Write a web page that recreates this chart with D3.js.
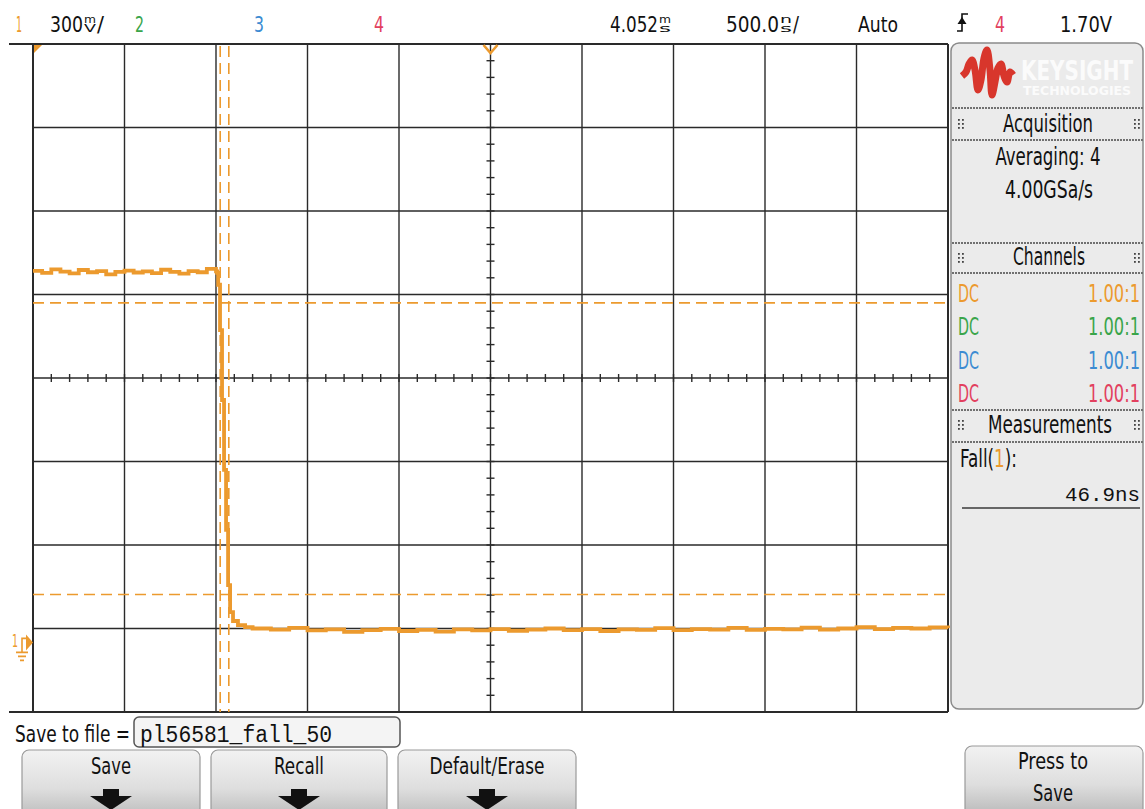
<!DOCTYPE html>
<html><head><meta charset="utf-8">
<script src="https://cdn.jsdelivr.net/npm/d3@7"></script>
<style>
html,body{margin:0;padding:0;background:#fff;overflow:hidden}
svg{display:block}
text{font-family:"Liberation Sans Narrow","DejaVu Sans Condensed",sans-serif}
.mono{font-family:"Liberation Mono","DejaVu Sans Mono",monospace}
</style></head><body>
<svg id="c" width="1145" height="809"></svg>
<script>
// ---------- data ----------
const timeNs = [
 -2500,-2450,-2400,-2350,-2300,-2250,-2200,-2150,-2100,-2050,-2000,-1950,-1900,-1850,-1800,-1750,-1700,-1650,-1600,-1550,-1500,
 -1494,-1488,-1478,-1467,-1456,-1445,-1434,-1423,-1407,-1380,-1341,
 -1300,-1200,-1100,-1000,-900,-800,-700,-600,-500,-400,-300,-200,-100,0,100,200,300,400,500,600,700,800,900,1000,
 1100,1200,1300,1400,1500,1600,1700,1800,1900,2000,2100,2200,2300,2400,2500];
const ch1mV = [
 1335,1328,1340,1332,1326,1338,1330,1334,1322,1331,1336,1329,1333,1327,1339,1331,1325,1334,1330,1342,1333,
 1328,1285,1122,871,620,404,206,109,77,62,55,
 50,46,52,43,47,38,44,49,41,45,39,47,43,48,42,46,50,44,48,41,47,45,51,44,
 48,46,52,45,49,47,53,46,50,55,48,52,50,54,51];
const cursorTimesNs = [-1477, -1430];
const cursorLevelsmV = [1220, 172];
const timeDomainNs = [-2500, 2500];   // 10 div x 500 ns
const voltDomainmV = [-250, 2150];    // 8 div x 300 mV
const topLabels = {ch:["1","2","3","4"], scale:"300", delay:"4.052", tdiv:"500.0", mode:"Auto", trigCh:"4", trigLevel:"1.70V"};
const channelRows = [["DC","1.00:1"],["DC","1.00:1"],["DC","1.00:1"],["DC","1.00:1"]];
const measName = "Fall(", measCh = "1", measValue = "46.9ns";
const acqLines = ["Averaging: 4","4.00GSa/s"];
const fileName = "pl56581_fall_50";
const buttons = ["Save","Recall","Default/Erase"];

// ---------- styles ----------
const C = {orange:"#ec9a2e", green:"#3aa54a", blue:"#3c8bd2", red:"#e2405e", grid:"#2a2a2a"};
const chColors = [C.orange, C.green, C.blue, C.red];

const svg = d3.select("#c");
const defs = svg.append("defs");
const g1 = defs.append("linearGradient").attr("id","btn").attr("x1",0).attr("y1",0).attr("x2",0).attr("y2",1);
g1.append("stop").attr("offset","0%").attr("stop-color","#f2f2f2");
g1.append("stop").attr("offset","55%").attr("stop-color","#dedede");
g1.append("stop").attr("offset","100%").attr("stop-color","#b8b8b8");

const x = d3.scaleLinear().domain(timeDomainNs).range([33, 948]);
const y = d3.scaleLinear().domain(voltDomainmV).range([712, 44]);

function txt(xp, yp, s, o={}) {
  const t = svg.append("text").attr("x",xp).attr("y",yp).text(s)
    .attr("font-size", o.size||21).attr("fill", o.fill||"#111")
    .attr("text-anchor", o.anchor||"start");
  if (o.len) t.attr("textLength", o.len).attr("lengthAdjust","spacingAndGlyphs");
  if (o.cls) t.attr("class", o.cls);
  if (o.weight) t.attr("font-weight", o.weight);
  return t;
}
function stacked(xp, yp, top, bot, w) {
  txt(xp, yp-9, top, {size:10, len:w});
  txt(xp, yp, bot, {size:10, len:w});
}

// ---------- top status line ----------
const TY = 32;
txt(16, TY, topLabels.ch[0], {fill:C.orange, size:22, len:6});
txt(50, TY, topLabels.scale, {size:22, len:33});
stacked(84, TY, "m", "V", 12);
txt(97, TY, "/", {size:22, len:7});
txt(135, TY, topLabels.ch[1], {fill:C.green, size:22, len:9});
txt(254, TY, topLabels.ch[2], {fill:C.blue, size:22, len:10});
txt(374, TY, topLabels.ch[3], {fill:C.red, size:22, len:10});
txt(610, TY, topLabels.delay, {size:22, len:48});
stacked(659, TY, "m", "s", 12);
txt(726, TY, topLabels.tdiv, {size:22, len:53});
stacked(780, TY, "n", "s", 12);
txt(793, TY, "/", {size:22, len:6});
txt(858, TY, topLabels.mode, {size:22, len:40});
svg.append("path").attr("d","M957,31 H962 V14 H968").attr("stroke","#111").attr("fill","none").attr("stroke-width",1.6);
svg.append("path").attr("d","M957.5,24 L962,17 L966.5,24 Z").attr("fill","#111");
txt(995, TY, topLabels.trigCh, {fill:C.red, size:22, len:10});
txt(1060, TY, topLabels.trigLevel, {size:22, len:52});

// ---------- grid ----------
const grid = svg.append("g");
const vDivs = d3.range(timeDomainNs[0], timeDomainNs[1]+1, 500);
const hDivs = d3.range(voltDomainmV[0], voltDomainmV[1]+1, 300);
grid.selectAll(".v").data(vDivs).join("line")
  .attr("x1", d=>x(d)).attr("x2", d=>x(d)).attr("y1", y(voltDomainmV[1])).attr("y2", y(voltDomainmV[0]))
  .attr("stroke", C.grid).attr("stroke-width", (d,i)=> (i===0)?2:1.4);
grid.selectAll(".h").data(hDivs).join("line")
  .attr("x1", d => (d===voltDomainmV[0]||d===voltDomainmV[1]) ? 9 : x(timeDomainNs[0]))
  .attr("x2", x(timeDomainNs[1]))
  .attr("y1", d=>y(d)).attr("y2", d=>y(d))
  .attr("stroke", C.grid).attr("stroke-width", d => (d===voltDomainmV[0]||d===voltDomainmV[1]) ? 2.2 : 1.4);
grid.append("line").attr("x1",x(timeDomainNs[1])).attr("x2",x(timeDomainNs[1])).attr("y1",y(voltDomainmV[1])).attr("y2",y(voltDomainmV[0])).attr("stroke",C.grid).attr("stroke-width",2);
const tCenter = 0, vCenter = 950;
grid.selectAll(".tv").data(d3.range(voltDomainmV[0], voltDomainmV[1]+1, 60)).join("line")
  .attr("x1", x(tCenter)-4).attr("x2", x(tCenter)+4).attr("y1", d=>y(d)).attr("y2", d=>y(d))
  .attr("stroke", C.grid).attr("stroke-width",1.4);
grid.selectAll(".th").data(d3.range(timeDomainNs[0], timeDomainNs[1]+1, 100)).join("line")
  .attr("y1", y(vCenter)-4).attr("y2", y(vCenter)+4).attr("x1", d=>x(d)).attr("x2", d=>x(d))
  .attr("stroke", C.grid).attr("stroke-width",1.4);

// ---------- cursors ----------
svg.selectAll(".cv").data(cursorTimesNs).join("line")
  .attr("x1", d=>x(d)).attr("x2", d=>x(d)).attr("y1", y(voltDomainmV[1])+2).attr("y2", y(voltDomainmV[0]))
  .attr("stroke", C.orange).attr("stroke-width",1.6).attr("stroke-dasharray","11,6");
svg.selectAll(".ch").data(cursorLevelsmV).join("line")
  .attr("x1", x(timeDomainNs[0])).attr("x2", x(timeDomainNs[1])).attr("y1", d=>y(d)).attr("y2", d=>y(d))
  .attr("stroke", C.orange).attr("stroke-width",1.6).attr("stroke-dasharray","11,6");

// ---------- trace ----------
const pts = timeNs.map((t,i)=>[t, ch1mV[i]]);
svg.append("path").datum(pts)
  .attr("d", d3.line().curve(d3.curveStepAfter).x(d=>x(d[0])).y(d=>y(d[1])))
  .attr("fill","none").attr("stroke", C.orange).attr("stroke-width",3.8).attr("stroke-linejoin","miter");

// ---------- markers ----------
svg.append("path").attr("d",`M${x(0)-7},${y(voltDomainmV[1])+1} L${x(0)},${y(voltDomainmV[1])+9} L${x(0)+7},${y(voltDomainmV[1])+1}`)
  .attr("fill","none").attr("stroke",C.orange).attr("stroke-width",2.6);
svg.append("path").attr("d",`M${x(timeDomainNs[0])+1},${y(voltDomainmV[1])+1} h8 l-8,8 Z`).attr("fill",C.orange);
const gy = y(0);
txt(12, gy+5, "1", {fill:C.orange, size:17, len:6});
svg.append("path").attr("d",`M22,${gy+10} V${gy-4} H27`).attr("stroke",C.orange).attr("fill","none").attr("stroke-width",1.6);
svg.append("path").attr("d",`M26,${gy-8} L33,${gy} L26,${gy+8} Z`).attr("fill",C.orange);
svg.append("path").attr("d",`M16,${gy+10} H28 M18,${gy+14} H26 M20,${gy+18} H24`).attr("stroke",C.orange).attr("stroke-width",1.6);

// ---------- right panel ----------
const P = svg.append("g");
P.append("rect").attr("x",951).attr("y",43).attr("width",192).attr("height",666).attr("rx",8)
  .attr("fill","#ebebeb").attr("stroke","#8a8a8a").attr("stroke-width",1.5);
const logoPts = [[962,76],[966,72],[969,64],[972,60],[975,70],[978,90],[981,80],[984,58],[987,50],[990,70],[992,95],[995,82],[998,68],[1001,64],[1004,76],[1007,82],[1010,72],[1013,75]];
P.append("path").attr("d", d3.line().curve(d3.curveCatmullRom)(logoPts))
  .attr("fill","none").attr("stroke","#d8362c").attr("stroke-width",7).attr("stroke-linejoin","round");
txt(1021, 80, "KEYSIGHT", {fill:"#fbfbfb", size:26, weight:"bold", len:112});
txt(1023, 95, "TECHNOLOGIES", {fill:"#fbfbfb", size:13, weight:"bold", len:108});
[108,140,243,273,410,442].forEach(yy=>{
  P.append("line").attr("x1",952).attr("x2",1143).attr("y1",yy).attr("y2",yy).attr("stroke","#707070").attr("stroke-width",2).attr("stroke-dasharray","2,1");
});
P.append("line").attr("x1",962).attr("x2",1140).attr("y1",508).attr("y2",508).attr("stroke","#666").attr("stroke-width",2);
function grip(gx, gy) {
  for (let r=0;r<3;r++) for (let c=0;c<2;c++)
    P.append("rect").attr("x",gx+c*4).attr("y",gy+r*4).attr("width",1.8).attr("height",1.8).attr("fill","#444");
}
[[124],[258],[425]].forEach(([cy])=>{ grip(958, cy-5); grip(1134, cy-5); });
txt(1048, 132, "Acquisition", {anchor:"middle", size:24, len:90});
txt(1048, 165, acqLines[0], {anchor:"middle", size:24, len:105});
txt(1049, 198, acqLines[1], {anchor:"middle", size:24, len:88});
txt(1049, 265, "Channels", {anchor:"middle", size:24, len:72});
channelRows.forEach((r,i)=>{
  const yy = 302 + i*33.3;
  txt(958, yy, r[0], {fill:chColors[i], size:24, len:21});
  txt(1140, yy, r[1], {fill:chColors[i], size:24, anchor:"end", len:52});
});
txt(1050, 433, "Measurements", {anchor:"middle", size:24, len:124});
const ft = svg.append("text").attr("x",960).attr("y",467).attr("font-size",24).attr("fill","#111")
  .attr("textLength",57).attr("lengthAdjust","spacingAndGlyphs");
ft.append("tspan").text(measName);
ft.append("tspan").attr("fill",C.orange).text(measCh);
ft.append("tspan").text("):");
txt(1140, 501, measValue, {anchor:"end", size:21, cls:"mono", len:75});

// ---------- bottom ----------
txt(15, 742, "Save to file =", {size:23, len:115});
svg.append("rect").attr("x",134).attr("y",717).attr("width",266).attr("height",30).attr("rx",5)
  .attr("fill","#f4f4f4").attr("stroke","#555").attr("stroke-width",1.5);
txt(140, 742, fileName, {size:23, cls:"mono", len:192});
const btnX = [[22,200],[211,387],[398,576]];
buttons.forEach((b,i)=>{
  const [a,z] = btnX[i];
  svg.append("rect").attr("x",a).attr("y",750).attr("width",z-a).attr("height",70).attr("rx",7)
    .attr("fill","url(#btn)").attr("stroke","#9a9a9a").attr("stroke-width",1.2);
  const cx=(a+z)/2;
  const w = [40,50,115][i];
  txt(cx, 774, b, {anchor:"middle", size:23, len:w});
  svg.append("path").attr("d",`M${cx-8},789 h16 v7 h13 l-21,14 l-21,-14 h13 Z`).attr("fill","#111");
});
svg.append("rect").attr("x",965).attr("y",746).attr("width",178).attr("height",70).attr("rx",7)
  .attr("fill","url(#btn)").attr("stroke","#9a9a9a").attr("stroke-width",1.2);
txt(1053, 769, "Press to", {anchor:"middle", size:23, len:70});
txt(1053, 801, "Save", {anchor:"middle", size:23, len:40});
</script></body></html>
